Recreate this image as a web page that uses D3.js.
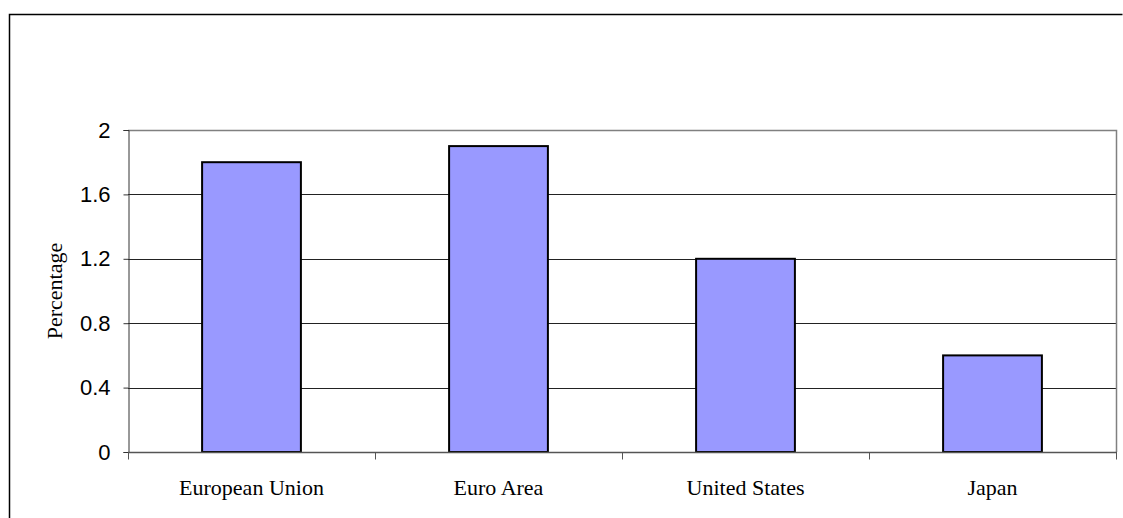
<!DOCTYPE html>
<html>
<head>
<meta charset="utf-8">
<script src="https://cdn.jsdelivr.net/npm/d3@7"></script>
<style>
  body { margin: 0; background: #fff; }
  svg { display: block; }
</style>
</head>
<body>
<div id="chart"></div>
<script>
// chart values
const categories = ["European Union", "Euro Area", "United States", "Japan"];
const values = [1.8, 1.9, 1.2, 0.6];
const yTicks = [0, 0.4, 0.8, 1.2, 1.6, 2];

const W = 1123, H = 518;
const plot = { left: 128, top: 130, right: 1116, bottom: 452 };

const svg = d3.select("#chart").append("svg")
    .attr("width", W)
    .attr("height", H);

// outer frame (only top and left visible)
svg.append("path")
    .attr("d", `M9.5,${H} V14.5 H1122.5`)
    .attr("fill", "none")
    .attr("stroke", "#000")
    .attr("stroke-width", 1.5);

const x = d3.scaleBand()
    .domain(categories)
    .range([plot.left, plot.right])
    .paddingInner(0.6)
    .paddingOuter(0.3);

const xBand = d3.scaleBand()
    .domain(categories)
    .range([plot.left, plot.right]);

const y = d3.scaleLinear()
    .domain([0, 2])
    .range([plot.bottom, plot.top]);

// gridlines
svg.append("g")
    .selectAll("line")
    .data(yTicks.filter(d => d > 0 && d < 2))
    .join("line")
    .attr("x1", plot.left)
    .attr("x2", plot.right)
    .attr("y1", d => Math.round(y(d)) + 0.5)
    .attr("y2", d => Math.round(y(d)) + 0.5)
    .attr("stroke", "#222")
    .attr("stroke-width", 1);

// plot border top/right (gray)
svg.append("path")
    .attr("d", `M${plot.left},${plot.top + 0.5} H${plot.right + 0.5} V${plot.bottom}`)
    .attr("fill", "none")
    .attr("stroke", "#808080")
    .attr("stroke-width", 1.5);

// bars
svg.append("g")
    .selectAll("rect")
    .data(values)
    .join("rect")
    .attr("x", (d, i) => x(categories[i]))
    .attr("width", x.bandwidth())
    .attr("y", d => y(d))
    .attr("height", d => y(0) - y(d))
    .attr("fill", "#9999FF")
    .attr("stroke", "#000")
    .attr("stroke-width", 2);

// y axis
const yAxis = svg.append("g")
    .attr("transform", `translate(${plot.left + 0.5},0)`)
    .call(d3.axisLeft(y).tickValues(yTicks).tickFormat(d3.format("")).tickSize(5).tickPadding(13));
yAxis.select(".domain").attr("stroke", "#333");
yAxis.selectAll(".tick line").attr("stroke", "#333");
yAxis.selectAll("text")
    .attr("font-family", "'Liberation Sans', Arial, sans-serif")
    .attr("font-size", 22)
    .attr("fill", "#000");

// x axis with ticks at category boundaries
const xAxis = svg.append("g")
    .attr("transform", `translate(0,${plot.bottom + 0.5})`);
xAxis.append("line")
    .attr("x1", plot.left)
    .attr("x2", plot.right + 1)
    .attr("stroke", "#555")
    .attr("stroke-width", 1.5);
xAxis.selectAll("line.tick")
    .data(categories.map(c => xBand(c) + xBand.bandwidth()).concat([plot.left]))
    .join("line")
    .attr("class", "tick")
    .attr("x1", d => Math.round(d) + 0.5)
    .attr("x2", d => Math.round(d) + 0.5)
    .attr("y1", 0)
    .attr("y2", 7)
    .attr("stroke", "#555");
xAxis.selectAll("text")
    .data(categories)
    .join("text")
    .attr("x", d => xBand(d) + xBand.bandwidth() / 2)
    .attr("y", 42)
    .attr("text-anchor", "middle")
    .attr("font-family", "'Liberation Serif', 'Times New Roman', serif")
    .attr("font-size", 22)
    .text(d => d);

// y axis title
svg.append("text")
    .attr("transform", `translate(62,${(plot.top + plot.bottom) / 2}) rotate(-90)`)
    .attr("text-anchor", "middle")
    .attr("font-family", "'Liberation Serif', 'Times New Roman', serif")
    .attr("font-size", 22)
    .text("Percentage");
</script>
</body>
</html>
